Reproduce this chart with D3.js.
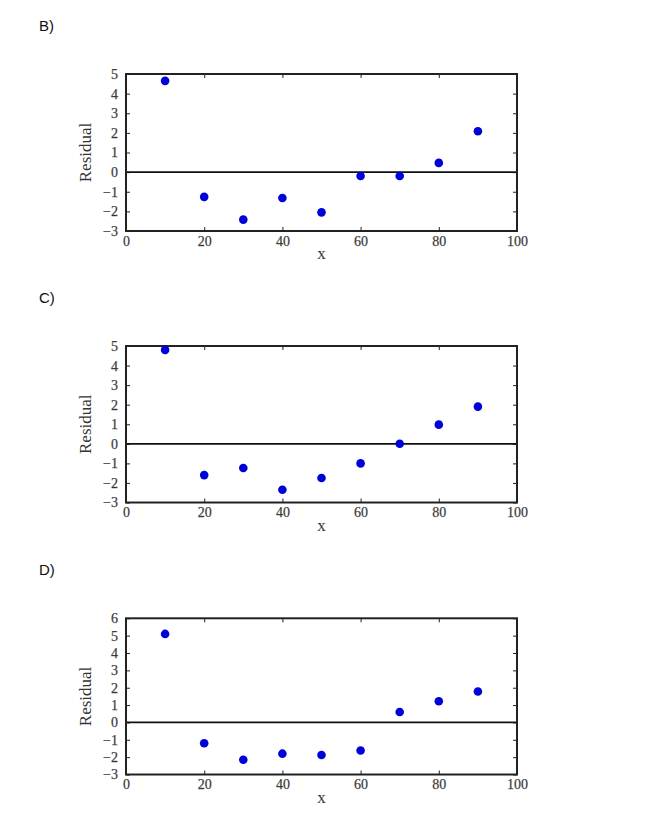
<!DOCTYPE html>
<html><head><meta charset="utf-8">
<script src="https://cdn.jsdelivr.net/npm/d3@7"></script>
<style>body{margin:0;background:#fff}</style>
</head><body>
<svg id="c" width="650" height="819"></svg>
<script>
const xs = [10,20,30,40,50,60,70,80,90];
const residB = [4.65,-1.26,-2.42,-1.32,-2.05,-0.2,-0.2,0.47,2.08];
const residC = [4.8,-1.6,-1.24,-2.35,-1.75,-1.0,0.0,0.98,1.9];
const residD = [5.1,-1.2,-2.15,-1.8,-1.88,-1.62,0.6,1.22,1.78];
const panelNames = ["B)","C)","D)"];
const yDomains = [[-3,5],[-3,5],[-3,6]];
const xTicks = [0,20,40,60,80,100];
const xLabel = "x", yLabel = "Residual";

const panels = [
  {name:panelNames[0], data:residB, yd:yDomains[0], top:74, bottom:231, labelY:31},
  {name:panelNames[1], data:residC, yd:yDomains[1], top:346, bottom:502.5, labelY:303},
  {name:panelNames[2], data:residD, yd:yDomains[2], top:618.3, bottom:774.5, labelY:575}
];
const L = 126, R = 517;
const svg = d3.select("#c");
const serif = "'Liberation Serif', 'DejaVu Serif', serif";

panels.forEach(p => {
  svg.append("text").attr("x",39).attr("y",p.labelY)
    .attr("font-family","'Liberation Sans', Arial, sans-serif").attr("font-size",15)
    .attr("fill","#111").text(p.name);
  const x = d3.scaleLinear().domain([0,100]).range([L,R]);
  const y = d3.scaleLinear().domain(p.yd).range([p.bottom,p.top]);
  const yt = d3.range(p.yd[0], p.yd[1]+1);
  const fmt = d => d < 0 ? "\u2212" + Math.abs(d) : String(d);
  const g = svg.append("g");
  const styleAxis = sel => {
    sel.select(".domain").remove();
    sel.selectAll("line").attr("stroke","#222").attr("stroke-width",1);
    sel.selectAll("text").attr("font-family",serif).attr("font-size",14).attr("fill","#333")
      .attr("stroke","#555").attr("stroke-width",0.25);
  };
  g.append("g").attr("transform",`translate(${L},0)`)
    .call(d3.axisLeft(y).tickValues(yt).tickFormat(fmt).tickSizeInner(-4).tickSizeOuter(0).tickPadding(8))
    .call(styleAxis);
  g.append("g").attr("transform",`translate(${R},0)`)
    .call(d3.axisRight(y).tickValues(yt).tickFormat("").tickSizeInner(-4).tickSizeOuter(0))
    .call(styleAxis);
  g.append("g").attr("transform",`translate(0,${p.bottom})`)
    .call(d3.axisBottom(x).tickValues(xTicks).tickFormat(d3.format("d")).tickSizeInner(-4).tickSizeOuter(0).tickPadding(5))
    .call(styleAxis);
  g.append("g").attr("transform",`translate(0,${p.top})`)
    .call(d3.axisTop(x).tickValues(xTicks).tickFormat("").tickSizeInner(-4).tickSizeOuter(0))
    .call(styleAxis);
  // zero line
  g.append("line").attr("x1",x(0)).attr("x2",x(100)).attr("y1",y(0)).attr("y2",y(0))
    .attr("stroke","#111").attr("stroke-width",1.8);
  // frame
  g.append("rect").attr("x",L).attr("y",p.top).attr("width",R-L).attr("height",p.bottom-p.top)
    .attr("fill","none").attr("stroke","#222").attr("stroke-width",2);
  // points
  g.selectAll("circle.pt").data(xs.map((v,i)=>({x:v,y:p.data[i]}))).enter()
    .append("circle").attr("class","pt").attr("cx",d=>x(d.x)).attr("cy",d=>y(d.y))
    .attr("r",4.3).attr("fill","#0000d8");
  // labels
  g.append("text").attr("x",(L+R)/2).attr("y",p.bottom+28).attr("text-anchor","middle")
    .attr("font-family",serif).attr("font-size",17).attr("fill","#333").text(xLabel);
  g.append("text").attr("transform",`translate(91,${(p.top+p.bottom)/2}) rotate(-90)`)
    .attr("text-anchor","middle").attr("font-family",serif).attr("font-size",17)
    .attr("fill","#333").text(yLabel);
});
</script>
</body></html>
